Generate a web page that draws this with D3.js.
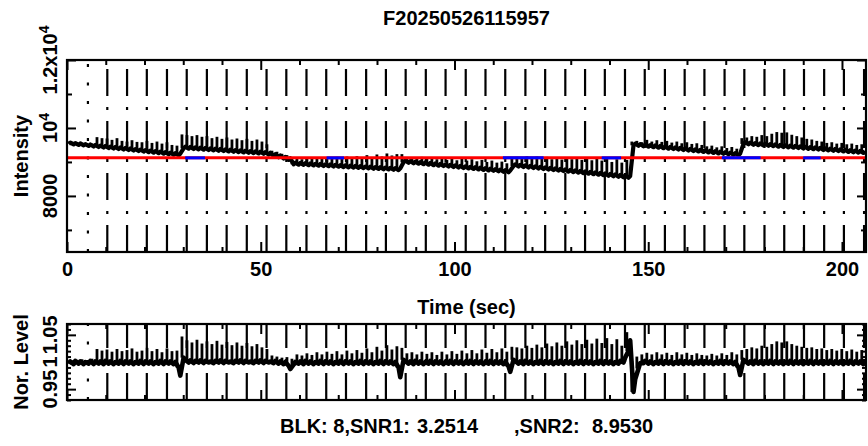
<!DOCTYPE html>
<html><head><meta charset="utf-8">
<script src="https://cdn.jsdelivr.net/npm/d3@7"></script>
<style>
body{margin:0;background:#fff;}
svg{display:block;}
text{font-family:"Liberation Sans",Arial,Helvetica,sans-serif;font-weight:bold;fill:#000;}
</style></head><body>
<svg id="c" width="868" height="446"></svg>
<script>
// ---------------- data ----------------
const TITLE = "F20250526115957";
const X_LABEL = "Time (sec)";
const Y1_LABEL = "Intensity";
const Y2_LABEL = "Nor. Level";
const FOOTER = ["BLK: 8,SNR1:", "3.2514", ",SNR2:", "8.9530"];

const X_DOMAIN = [0, 206.2];
const X_MAJOR = [0, 50, 100, 150, 200];
const X_MINOR = [10, 20, 30, 40, 60, 70, 80, 90, 110, 120, 130, 140, 160, 170, 180, 190];

const Y1_DOMAIN = [6350, 12000];
const Y1_MAJOR = [8000, 10000, 12000];
const Y1_MAJOR_LABELS = [["8000", ""], ["10", "4"], ["1.2x10", "4"]];
const Y1_MINOR = [7000, 9000, 11000];

const Y2_DOMAIN = [0.93, 1.07];
const Y2_MAJOR = [0.95, 1.0, 1.05];
const Y2_MAJOR_LABELS = ["0.95", "1", "1.05"];
const Y2_MINOR = [0.93, 0.94, 0.96, 0.97, 0.98, 0.99, 1.01, 1.02, 1.03, 1.04, 1.06, 1.07];

const MEAN_LEVEL = 9120;
const BLUE_SPANS = [[30.5, 35.6], [67.0, 71.5], [112.5, 123.0], [138.0, 143.0], [169.0, 179.0], [190.0, 194.5]];

// block marker times (first one dotted, the rest dash-dot)
const MARK_TIMES = [5.4, 10.4, 15.5, 20.6, 25.8, 30.9, 36.1, 41.2, 46.4, 51.5, 56.6, 61.8, 66.9, 72.0,
  77.2, 82.3, 87.4, 92.6, 97.7, 102.9, 108.0, 113.1, 118.3, 123.4, 128.6, 133.7, 138.8, 144.0,
  149.1, 154.3, 159.4, 164.5, 169.7, 174.8, 180.0, 185.1, 190.2, 195.4, 200.5, 205.7];

const SAMPLE_DT = 0.43; // seconds between samples; every third sample is a pulse sample

const INTENSITY = [
9600,9530,9570, 9590,9515,9555, 9570,9500,9545, 9560,9490,9525, 9545,9470,9515, 9540,9455,9500,
9730,9440,9480, 9700,9425,9470, 9690,9410,9450, 9650,9395,9440, 9700,9380,9425, 9620,9365,9410,
9600,9350,9395, 9640,9335,9380, 9590,9320,9365, 9580,9305,9350, 9620,9290,9335, 9560,9275,9320,
9600,9260,9305, 9540,9245,9290, 9580,9230,9275, 9500,9215,9260, 9480,9200,9245,
9810,9400,9450, 9790,9390,9440, 9760,9380,9430, 9790,9370,9420, 9740,9360,9410, 9760,9350,9400,
9700,9340,9390, 9740,9330,9380, 9680,9320,9370, 9720,9310,9360, 9660,9300,9350, 9690,9290,9340,
9640,9280,9330, 9680,9270,9320, 9620,9260,9310, 9660,9250,9300, 9600,9240,9290, 9520,9220,9270,
9330,9180,9230, 9300,9140,9190, 9240,9100,9150, 9200,9060,9110,
9060,8930,8980, 9090,8920,8970, 9080,8915,8965, 9110,8905,8955, 9090,8900,8945, 9130,8890,8940,
9100,8880,8930, 9140,8875,8925, 9110,8865,8915, 9150,8860,8905, 9090,8850,8900, 9160,8840,8890,
9120,8835,8885, 9170,8825,8875, 9130,8820,8865, 9200,8810,8860, 9140,8800,8850, 9220,8795,8845,
9160,8785,8835, 9250,8780,8825, 9190,8770,8820, 9230,8760,8810,
9230,8990,9040, 9120,8975,9025, 9140,8960,9010, 9110,8950,8995, 9150,8935,8985, 9100,8920,8970,
9130,8905,8955, 9080,8890,8940, 9120,8880,8925, 9060,8865,8915, 9100,8850,8900, 9050,8835,8885,
9090,8820,8870, 9040,8810,8855, 9080,8795,8845, 9020,8780,8830, 9060,8765,8815, 9000,8750,8800,
9040,8740,8785, 8980,8725,8775, 9010,8710,8760, 8960,8695,8745,
9120,8880,8930, 9150,8865,8915, 9130,8850,8900, 9170,8835,8885, 9110,8820,8870, 9160,8805,8855,
9100,8790,8840, 9150,8775,8825, 9080,8760,8810, 9140,8745,8795, 9070,8730,8780, 9130,8715,8765,
9080,8700,8750, 9140,8685,8735, 9060,8670,8720, 9120,8655,8705, 9050,8640,8690, 9110,8625,8675,
9040,8610,8660, 9100,8595,8645, 9000,8580,8630, 9080,8565,8615, 8980,8550,8600, 9060,8535,8585,
9600,9490,9540, 9620,9475,9525, 9580,9460,9510, 9650,9450,9495, 9600,9435,9485, 9640,9420,9470,
9590,9405,9455, 9620,9390,9440, 9570,9380,9425, 9600,9365,9415, 9550,9350,9400, 9580,9335,9385,
9530,9320,9370, 9550,9310,9355, 9500,9295,9345, 9460,9280,9330, 9480,9265,9315, 9430,9250,9300,
9460,9240,9285, 9410,9225,9275, 9440,9210,9260, 9390,9195,9245,
9700,9530,9580, 9720,9520,9570, 9760,9505,9555, 9740,9495,9545, 9790,9485,9535, 9760,9475,9525,
9830,9465,9515, 9880,9450,9500, 9860,9440,9490, 9870,9430,9480, 9800,9420,9470, 9760,9410,9460,
9720,9395,9445, 9680,9385,9435, 9660,9375,9425, 9620,9365,9415, 9600,9350,9400, 9560,9340,9390,
9580,9330,9380, 9540,9320,9370, 9560,9310,9360, 9520,9295,9345, 9540,9285,9335, 9500,9275,9325,
9520,9265,9315
];

const NOR_LEVEL = [
1.004,0.997,1.001, 1.003,0.996,1.002, 1.004,0.997,1.001, 1.005,0.996,1.000, 1.003,0.997,1.002, 1.006,0.996,1.001,
1.024,0.997,1.001, 1.021,0.996,1.002, 1.023,0.997,1.001, 1.019,0.996,1.000, 1.024,0.997,1.002, 1.020,0.996,1.001,
1.022,0.997,1.001, 1.025,0.996,1.000, 1.019,0.997,1.002, 1.021,0.996,1.001, 1.026,0.997,1.001, 1.020,0.996,1.000,
1.024,0.997,1.002, 1.018,0.996,1.001, 1.025,0.997,1.001, 1.020,0.996,1.000, 1.021,0.990,0.975,
1.047,1.008,1.004, 1.040,0.999,1.003, 1.036,0.998,1.002, 1.041,0.999,1.003, 1.034,0.998,1.002, 1.038,0.999,1.001,
1.033,0.998,1.002, 1.039,0.999,1.003, 1.032,0.998,1.002, 1.037,0.999,1.001, 1.031,0.998,1.002, 1.036,0.999,1.003,
1.030,0.998,1.002, 1.035,0.999,1.001, 1.029,0.998,1.002, 1.033,0.999,1.003, 1.027,0.998,1.002, 1.024,0.999,1.001,
1.012,0.998,1.002, 1.010,0.997,1.001, 1.008,0.996,1.000, 1.009,0.993,0.987,
1.006,0.995,1.000, 1.014,0.997,1.001, 1.012,0.996,1.002, 1.016,0.997,1.001, 1.013,0.996,1.000, 1.018,0.997,1.002,
1.014,0.996,1.001, 1.019,0.997,1.001, 1.015,0.996,1.000, 1.020,0.997,1.002, 1.014,0.996,1.001, 1.021,0.997,1.001,
1.016,0.996,1.000, 1.022,0.997,1.002, 1.017,0.996,1.001, 1.025,0.997,1.001, 1.018,0.996,1.000, 1.028,0.997,1.002,
1.021,0.996,1.001, 1.031,0.997,1.001, 1.023,0.996,1.000, 1.029,0.990,0.972,
1.026,1.004,1.002, 1.016,0.997,1.001, 1.018,0.996,1.002, 1.014,0.997,1.001, 1.019,0.996,1.000, 1.015,0.997,1.002,
1.018,0.996,1.001, 1.013,0.997,1.001, 1.019,0.996,1.000, 1.014,0.997,1.002, 1.020,0.996,1.001, 1.015,0.997,1.001,
1.021,0.996,1.000, 1.016,0.997,1.002, 1.022,0.996,1.001, 1.016,0.997,1.001, 1.023,0.996,1.000, 1.017,0.997,1.002,
1.024,0.996,1.001, 1.018,0.997,1.001, 1.025,0.996,1.000, 1.019,0.992,0.982,
1.028,1.004,1.002, 1.027,0.997,1.001, 1.025,0.996,1.002, 1.030,0.997,1.001, 1.026,0.996,1.000, 1.032,0.997,1.002,
1.027,0.996,1.001, 1.034,0.997,1.001, 1.029,0.996,1.000, 1.036,0.997,1.002, 1.030,0.996,1.001, 1.038,0.997,1.001,
1.032,0.996,1.000, 1.040,0.997,1.002, 1.033,0.996,1.001, 1.041,0.997,1.001, 1.034,0.996,1.000, 1.043,0.997,1.002,
1.035,0.996,1.001, 1.044,0.997,1.001, 1.033,0.996,1.000, 1.042,0.997,1.002, 1.030,0.999,1.008, 1.055,1.020,1.040,
1.002,0.945,0.968, 1.010,0.988,0.998, 1.014,0.998,1.002, 1.017,0.997,1.001, 1.014,0.996,1.000, 1.018,0.997,1.002,
1.014,0.996,1.001, 1.017,0.997,1.001, 1.013,0.996,1.000, 1.018,0.997,1.002, 1.014,0.996,1.001, 1.017,0.997,1.001,
1.013,0.996,1.000, 1.016,0.997,1.002, 1.013,0.996,1.001, 1.012,0.997,1.001, 1.015,0.996,1.000, 1.012,0.997,1.002,
1.016,0.996,1.001, 1.013,0.997,1.001, 1.018,0.996,1.000, 1.014,0.990,0.976,
1.022,1.004,1.002, 1.024,0.997,1.001, 1.027,0.996,1.002, 1.025,0.997,1.001, 1.030,0.996,1.000, 1.028,0.997,1.002,
1.033,0.996,1.001, 1.038,0.997,1.001, 1.036,0.996,1.000, 1.038,0.997,1.002, 1.033,0.996,1.001, 1.030,0.997,1.001,
1.028,0.996,1.000, 1.026,0.997,1.002, 1.027,0.996,1.001, 1.024,0.997,1.001, 1.025,0.996,1.000, 1.022,0.997,1.002,
1.024,0.996,1.001, 1.021,0.997,1.001, 1.024,0.996,1.000, 1.020,0.997,1.002, 1.023,0.996,1.001, 1.019,0.997,1.001,
1.022,0.996,1.000
];

// ---------------- layout ----------------
const LEFT = 67, RIGHT = 866;
const P1 = {top: 60, bottom: 252};
const P2 = {top: 324, bottom: 400};

const svg = d3.select("#c");
const x = d3.scaleLinear().domain(X_DOMAIN).range([LEFT, RIGHT]);
const y1 = d3.scaleLinear().domain(Y1_DOMAIN).range([P1.bottom, P1.top]);
const y2 = d3.scaleLinear().domain(Y2_DOMAIN).range([P2.bottom, P2.top]);

const defs = svg.append("defs");
[["clip1", P1], ["clip2", P2]].forEach(([id, p]) => {
  defs.append("clipPath").attr("id", id).append("rect")
    .attr("x", LEFT).attr("y", p.top).attr("width", RIGHT - LEFT).attr("height", p.bottom - p.top);
});

function markers(p, clip) {
  svg.append("g").attr("clip-path", `url(#${clip})`)
    .selectAll("line").data(MARK_TIMES).join("line")
    .attr("x1", d => x(d)).attr("x2", d => x(d))
    .attr("y1", p.bottom).attr("y2", p.top)
    .attr("stroke", "#000").attr("stroke-width", 2.2)
    .attr("stroke-dasharray", (d, i) => i === 0 ? "3 15.5" : "27 11 3 11");
}

// noisy base samples drawn as a thick line, pulse samples as thin vertical spikes
function series(values, yScale, clip, baseWidth) {
  const pts = values.map((v, i) => ({t: i * SAMPLE_DT, v, pulse: i % 3 === 0, i}));
  const base = pts.filter(d => !d.pulse);
  const g = svg.append("g").attr("clip-path", `url(#${clip})`);
  g.append("path")
    .attr("d", d3.line().x(d => x(d.t)).y(d => yScale(d.v))(base))
    .attr("fill", "none").attr("stroke", "#000")
    .attr("stroke-width", baseWidth).attr("stroke-linejoin", "round");
  g.selectAll("line.spike").data(pts.filter(d => d.pulse && d.i + 1 < values.length)).join("line")
    .attr("class", "spike")
    .attr("x1", d => x(d.t)).attr("x2", d => x(d.t))
    .attr("y1", d => yScale(values[d.i + 1])).attr("y2", d => yScale(d.v))
    .attr("stroke", "#000").attr("stroke-width", 2.8);
}

function tickSet(axisFn, scale, values, size, transform) {
  svg.append("g").attr("transform", transform)
    .call(axisFn(scale).tickValues(values).tickSize(-size).tickFormat(""))
    .call(g => g.select(".domain").remove())
    .call(g => g.selectAll("line").attr("stroke", "#000").attr("stroke-width", 2));
}

function frame(p, yScale, yMajor, yMinor, majLen, minLen) {
  tickSet(d3.axisBottom, x, X_MINOR, 5, `translate(0,${p.bottom})`);
  tickSet(d3.axisBottom, x, X_MAJOR, 10, `translate(0,${p.bottom})`);
  tickSet(d3.axisTop, x, X_MINOR, 5, `translate(0,${p.top})`);
  tickSet(d3.axisTop, x, X_MAJOR, 10, `translate(0,${p.top})`);
  tickSet(d3.axisLeft, yScale, yMinor, minLen, `translate(${LEFT},0)`);
  tickSet(d3.axisLeft, yScale, yMajor, majLen, `translate(${LEFT},0)`);
  tickSet(d3.axisRight, yScale, yMinor, minLen, `translate(${RIGHT},0)`);
  tickSet(d3.axisRight, yScale, yMajor, majLen, `translate(${RIGHT},0)`);
  svg.append("rect").attr("x", LEFT).attr("y", p.top)
    .attr("width", RIGHT - LEFT).attr("height", p.bottom - p.top)
    .attr("fill", "none").attr("stroke", "#000").attr("stroke-width", 2.2);
}

// ---------------- top panel ----------------
markers(P1, "clip1");
series(INTENSITY, y1, "clip1", 4.2);
svg.append("line").attr("x1", x(X_DOMAIN[0])).attr("x2", x(X_DOMAIN[1]))
  .attr("y1", y1(MEAN_LEVEL)).attr("y2", y1(MEAN_LEVEL))
  .attr("stroke", "#ff0000").attr("stroke-width", 3);
svg.append("g").selectAll("line").data(BLUE_SPANS).join("line")
  .attr("x1", d => x(d[0])).attr("x2", d => x(d[1]))
  .attr("y1", y1(MEAN_LEVEL)).attr("y2", y1(MEAN_LEVEL))
  .attr("stroke", "#0000ff").attr("stroke-width", 3);
frame(P1, y1, Y1_MAJOR, Y1_MINOR, 9, 5);

// x tick labels
svg.append("g").attr("transform", `translate(0,${P1.bottom})`)
  .call(d3.axisBottom(x).tickValues(X_MAJOR).tickSize(0).tickPadding(10).tickFormat(d3.format("d")))
  .call(g => g.attr("font-family", null).attr("font-size", null))
  .call(g => g.select(".domain").remove())
  .call(g => g.selectAll("line").remove())
  .call(g => g.selectAll("text").attr("font-size", 20).attr("fill", "#000"));

// y tick labels (rotated)
Y1_MAJOR.forEach((v, i) => {
  const t = svg.append("text").attr("transform", `translate(57,${y1(v)}) rotate(-90)`)
    .attr("text-anchor", "middle").attr("font-size", 20);
  t.append("tspan").text(Y1_MAJOR_LABELS[i][0]);
  if (Y1_MAJOR_LABELS[i][1]) t.append("tspan").attr("dy", -8).attr("font-size", 14).text(Y1_MAJOR_LABELS[i][1]);
});
svg.append("text").attr("transform", `translate(28,${(P1.top + P1.bottom) / 2}) rotate(-90)`)
  .attr("text-anchor", "middle").attr("font-size", 20).text(Y1_LABEL);

svg.append("text").attr("x", (LEFT + RIGHT) / 2).attr("y", 25)
  .attr("text-anchor", "middle").attr("font-size", 20).text(TITLE);
svg.append("text").attr("x", (LEFT + RIGHT) / 2).attr("y", 314)
  .attr("text-anchor", "middle").attr("font-size", 20).text(X_LABEL);

// ---------------- bottom panel ----------------
markers(P2, "clip2");
series(NOR_LEVEL, y2, "clip2", 4.6);
frame(P2, y2, Y2_MAJOR, Y2_MINOR, 9, 4);
Y2_MAJOR.forEach((v, i) => {
  svg.append("text").attr("transform", `translate(57,${y2(v)}) rotate(-90)`)
    .attr("text-anchor", "middle").attr("font-size", 20).text(Y2_MAJOR_LABELS[i]);
});
svg.append("text").attr("transform", `translate(28,${(P2.top + P2.bottom) / 2}) rotate(-90)`)
  .attr("text-anchor", "middle").attr("font-size", 20).text(Y2_LABEL);

// footer
const FOOTER_X = [280, 417, 514, 592];
const ft = svg.append("text").attr("y", 433).attr("font-size", 20);
FOOTER.forEach((s, i) => ft.append("tspan").attr("x", FOOTER_X[i]).text(s));
</script>
</body></html>
